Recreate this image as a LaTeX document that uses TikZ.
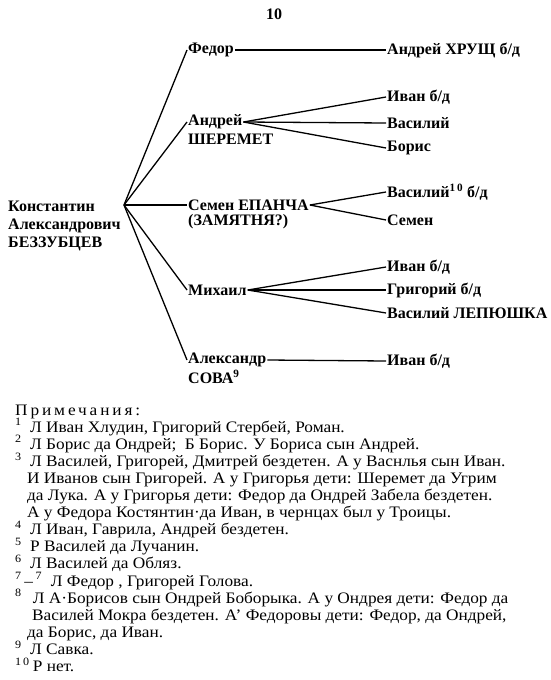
\documentclass[tikz,border=0pt]{standalone}
\usepackage{fontspec}
\setmainfont{Liberation Serif}
\usepackage{tikz}
\usetikzlibrary{positioning}
\tikzset{%
  person/.style = {anchor=west,inner sep=1pt,
        font=\fontsize{16}{17}\selectfont\bfseries},
  root/.style = {anchor=north west,inner sep=0pt,align=left,
        font=\fontsize{16}{18}\selectfont\bfseries},
  note/.style = {anchor=base west,inner sep=0pt,
        font=\fontsize{16}{17}\selectfont\addfontfeature{FakeStretch=1.08}},
  branch/.style = {line width=1.3pt}
}
\newcommand{\nnum}[1]{\makebox[15pt][l]{\textsuperscript{#1}}}

\begin{document}
\begin{tikzpicture}[x=1pt,y=-1pt]
                    \useasboundingbox (0,0) rectangle (550,680);
                    \node[person] (pagenum) at (265,14) {10};

                    % root
                    \node[root] (kab) at (8,201) {Константин\\Александрович\\БЕЗЗУБЦЕВ};
                    \coordinate (kj) at (124,205);

                    % sons
                    \node[person] (fedor) at (187,50) {Федор};
                    \node[person] (andrej) at (187,122) {Андрей};
                    \node[person] (sheremet) at (187,139) {ШЕРЕМЕТ};
                    \node[person] (semen) at (187,205) {Семен ЕПАНЧА};
                    \node[person] (zamjatnja) at (187,222) {(ЗАМЯТНЯ?)};
                    \node[person] (mihail) at (187,290) {Михаил};
                    \node[person] (aleksandr) at (187,360) {Александр};
                    \node[person] (sova) at (187,377) {СОВА\textsuperscript{9}};

                    % grandsons
                    \node[person] (hrusc) at (386,50) {Андрей ХРУЩ б/д};
                    \node[person] (ivana) at (386,97) {Иван б/д};
                    \node[person] (vasilija) at (386,123) {Василий};
                    \node[person] (boris) at (386,148) {Борис};
                    \node[person] (vasilijb) at (386,192) {Василий\textsuperscript{1\,0} б/д};
                    \node[person] (semenb) at (386,220) {Семен};
                    \node[person] (ivanb) at (386,267) {Иван б/д};
                    \node[person] (grigorij) at (386,290) {Григорий б/д};
                    \node[person] (lepjushka) at (386,313) {Василий ЛЕПЮШКА};
                    \node[person] (ivanc) at (386,361) {Иван б/д};

                    \draw[branch] (kj) -- (fedor.west);
                    \draw[branch] (kj) -- (andrej.west);
                    \draw[branch] (kj) -- (semen.west);
                    \draw[branch] (kj) -- (mihail.west);
                    \draw[branch] (kj) -- (aleksandr.west);

                    \draw[branch] (fedor.east) -- (hrusc.west);
                    \draw[branch] (andrej.east) -- (ivana.west);
                    \draw[branch] (andrej.east) -- (vasilija.west);
                    \draw[branch] (andrej.east) -- (boris.west);
                    \draw[branch] (semen.east) -- (vasilijb.west);
                    \draw[branch] (semen.east) -- (semenb.west);
                    \draw[branch] (mihail.east) -- (ivanb.west);
                    \draw[branch] (mihail.east) -- (grigorij.west);
                    \draw[branch] (mihail.east) -- (lepjushka.west);
                    \draw[branch] (aleksandr.east) -- (ivanc.west);

                    % notes
                    \node[note] (notes) at (15,415) {\addfontfeature{LetterSpace=18}Примечания:};
                    \node[note] (na) at (15,432.1) {\nnum{1}Л Иван Хлудин, Григорий Стербей, Роман.};
                    \node[note] (nb) at (15,449.2) {\nnum{2}Л Борис да Ондрей;\ \ Б Борис. У Бориса сын Андрей.};
                    \node[note] (nc) at (15,466.3) {\nnum{3}Л Василей, Григорей, Дмитрей бездетен. А у Васнлья сын Иван.};
                    \node[note] (ncb) at (27,483.4) {И Иванов сын Григорей. А у Григорья дети: Шеремет да Угрим};
                    \node[note] (ncc) at (27,500.5) {да Лука. А у Григорья дети: Федор да Ондрей Забела бездетен.};
                    \node[note] (ncd) at (27,517.6) {А у Федора Костянтин·да Иван, в чернцах был у Троицы.};
                    \node[note] (nd) at (15,534.7) {\nnum{4}Л Иван, Гаврила, Андрей бездетен.};
                    \node[note] (ne) at (15,551.8) {\nnum{5}Р Василей да Лучанин.};
                    \node[note] (nf) at (15,568.9) {\nnum{6}Л Василей да Обляз.};
                    \node[note] (ng) at (15,586) {\textsuperscript{7}\,–\,\textsuperscript{7}\ \ Л Федор , Григорей Голова.};
                    \node[note] (nh) at (15,603.1) {\nnum{8}\,Л А·Борисов сын Ондрей Боборыка. А у Ондрея дети: Федор да};
                    \node[note] (nhb) at (32,620.2) {Василей Мокра бездетен. А’ Федоровы дети: Федор, да Ондрей,};
                    \node[note] (nhc) at (27,637.3) {да Борис, да Иван.};
                    \node[note] (ni) at (15,654.4) {\nnum{9}Л Савка.};
                    \node[note] (nj) at (15,671.5) {\nnum{1\,0}\,Р нет.};
                 \end{tikzpicture}
\end{document}
